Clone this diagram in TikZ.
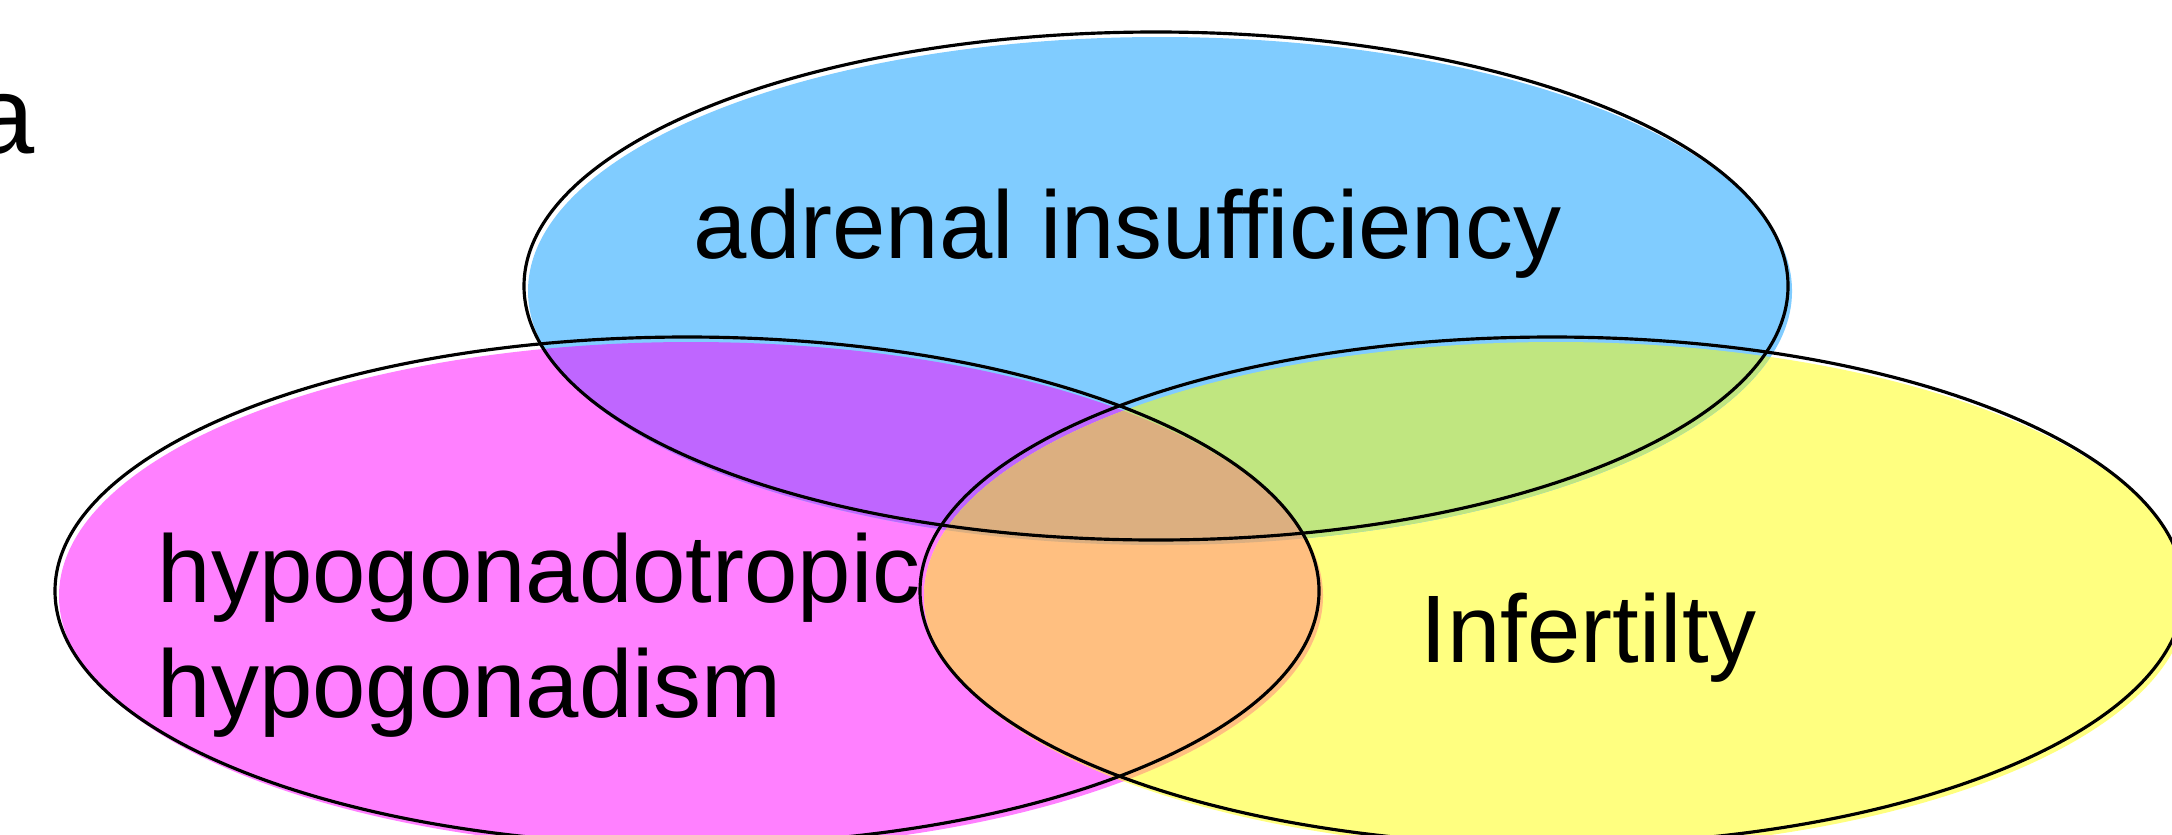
\documentclass[tikz,border=0pt]{standalone}
\usepackage{fontspec}
\setmainfont{Liberation Sans}
\definecolor{bluec}{HTML}{80CCFF}
\definecolor{pinkc}{HTML}{FF80FF}
\definecolor{yellowc}{HTML}{FFFF80}
\definecolor{bpc}{HTML}{BF66FF}
\definecolor{byc}{HTML}{C0E680}
\definecolor{pyc}{HTML}{FFBF80}
\definecolor{allc}{HTML}{DCAF80}
\tikzset{
  outline/.style={draw=black, line width=0.9pt},
  lbl/.style={inner sep=0pt, anchor=base west, font=\fontsize{27.3}{32.7}\selectfont},
}
\begin{document}
\begin{tikzpicture}
\useasboundingbox (0,0) rectangle (21.72,-8.34);
\def\rx{6.32}\def\ry{2.54}
% fills (slightly offset)
\fill[pinkc] (6.91,-5.96) ellipse [x radius=\rx, y radius=\ry];
\fill[yellowc] (15.56,-5.96) ellipse [x radius=\rx, y radius=\ry];
\fill[bluec] (11.60,-2.91) ellipse [x radius=\rx, y radius=\ry];
\begin{scope}
  \clip (11.60,-2.91) ellipse [x radius=\rx, y radius=\ry];
  \fill[bpc] (6.91,-5.96) ellipse [x radius=\rx, y radius=\ry];
  \fill[byc] (15.56,-5.96) ellipse [x radius=\rx, y radius=\ry];
\end{scope}
\begin{scope}
  \clip (6.91,-5.96) ellipse [x radius=\rx, y radius=\ry];
  \fill[pyc] (15.56,-5.96) ellipse [x radius=\rx, y radius=\ry];
\end{scope}
\begin{scope}
  \clip (11.60,-2.91) ellipse [x radius=\rx, y radius=\ry];
  \clip (6.91,-5.96) ellipse [x radius=\rx, y radius=\ry];
  \fill[allc] (15.56,-5.96) ellipse [x radius=\rx, y radius=\ry];
\end{scope}
% outlines
\draw[outline] (11.56,-2.86) ellipse [x radius=\rx, y radius=\ry];
\draw[outline] (6.87,-5.91) ellipse [x radius=\rx, y radius=\ry];
\draw[outline] (15.52,-5.91) ellipse [x radius=\rx, y radius=\ry];
% labels
\node[lbl] (adrenal) at (6.93,-2.58) {adrenal insufficiency};
\node[lbl] (hypoA) at (1.57,-6.02) {hypogonadotropic};
\node[lbl] (hypoB) at (1.57,-7.17) {hypogonadism};
\node[lbl] (infert) at (14.20,-6.62) {Infertilty};
\node[inner sep=0pt, anchor=base east, font=\fontsize{31.3}{37}\selectfont] (corner) at (0.35,-1.53) {a};
\end{tikzpicture}
\end{document}
